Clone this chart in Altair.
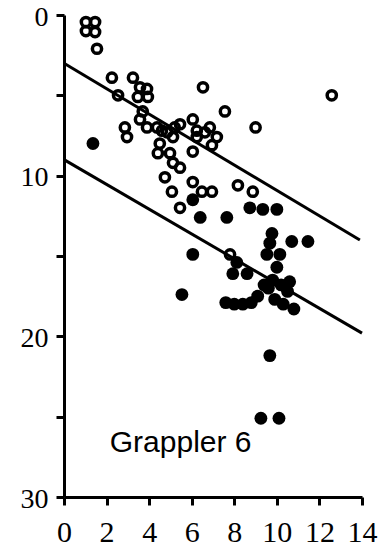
import altair as alt
import pandas as pd

# Open-circle group
open_x = [1.03, 1.46, 1.03, 1.46, 1.55, 2.25, 3.24, 2.54, 3.57, 3.9, 3.47, 3.94, 6.53,
          3.7, 3.57, 3.9, 2.86, 2.96, 4.37, 4.84, 5.2, 5.45, 6.05, 6.24, 6.62, 5.12,
          4.5, 4.98, 4.41, 6.05, 7.56, 9.0, 6.85, 7.18, 6.95, 6.24, 4.6, 5.12, 5.45,
          4.74, 6.05, 5.07, 6.48, 6.95, 5.45, 8.17, 8.87, 7.8, 12.58]
open_y = [0.44, 0.44, 1.0, 1.06, 2.1, 3.9, 3.9, 5.0, 4.5, 4.6, 5.1, 5.1, 4.5,
          6.0, 6.5, 7.0, 7.0, 7.6, 7.0, 7.3, 7.0, 6.8, 6.5, 7.2, 7.3, 7.6,
          8.0, 8.6, 8.6, 8.5, 6.0, 7.0, 7.0, 7.6, 8.1, 7.6, 7.2, 9.2, 9.5,
          10.1, 10.4, 11.0, 11.0, 11.0, 12.0, 10.6, 11.0, 14.9, 5.0]

# Filled-circle group
fill_x = [1.36, 6.05, 6.4, 7.65, 8.73, 9.34, 10.0, 6.05, 5.54, 9.77, 9.67, 10.7,
          11.46, 9.53, 10.14, 10.0, 8.12, 7.93, 8.6, 9.25, 10.1, 9.67,
          7.6, 8.0, 8.4, 8.8, 9.1, 9.4, 9.8, 10.2, 10.5, 10.8, 10.3, 9.9, 9.6, 10.6]
fill_y = [8.0, 11.5, 12.6, 12.6, 12.0, 12.1, 12.1, 14.9, 17.4, 13.6, 14.2, 14.1,
          14.1, 14.9, 14.9, 15.7, 15.4, 16.1, 16.1, 25.1, 25.1, 21.2,
          17.9, 18.0, 18.0, 17.9, 17.5, 16.8, 16.5, 16.8, 17.2, 18.3, 18.0, 17.7, 17.0, 16.6]

# Fitted lines (endpoints)
upper_x = [0.0, 13.9]
upper_y = [3.0, 14.0]
lower_x = [0.0, 14.0]
lower_y = [9.0, 19.8]

label_text = ["Grappler 6"]
label_x = [2.15]
label_y = [27.2]

open_df = pd.DataFrame({"x": open_x, "y": open_y})
fill_df = pd.DataFrame({"x": fill_x, "y": fill_y})
lines_df = pd.DataFrame({
    "x": upper_x + lower_x,
    "y": upper_y + lower_y,
    "line": ["upper"] * 2 + ["lower"] * 2,
})
label_df = pd.DataFrame({"x": label_x, "y": label_y, "t": label_text})

xscale = alt.Scale(domain=[0, 14], nice=False, zero=False)
yscale = alt.Scale(domain=[0, 30], reverse=True, nice=False, zero=False)

serif = "Liberation Serif"

x_enc = alt.X(
    "x:Q", scale=xscale,
    axis=alt.Axis(
        title=None, values=list(range(0, 15)), grid=False,
        labelExpr="datum.value % 2 == 0 ? datum.label : ''",
        labelFont=serif, labelFontSize=30, labelColor="black",
        labelPadding=12, tickSize=8, tickWidth=3, tickColor="black",
        domainWidth=3, domainColor="black", labelFlush=False,
    ),
)
y_enc = alt.Y(
    "y:Q", scale=yscale,
    axis=alt.Axis(
        title=None, values=[0, 5, 10, 15, 20, 25, 30], grid=False,
        labelExpr="datum.value % 10 == 0 ? datum.label : ''",
        labelFont=serif, labelFontSize=28, labelColor="black",
        labelPadding=8, labelOffset=2, tickSize=8, tickWidth=3, tickColor="black",
        domainWidth=3, domainColor="black", labelFlush=False,
    ),
)

lines = alt.Chart(lines_df).mark_line(color="black", strokeWidth=3).encode(
    x=x_enc, y=y_enc, detail="line:N"
)

open_pts = alt.Chart(open_df).mark_point(
    shape="circle", filled=False, color="black", strokeWidth=3.5, size=85, opacity=1
).encode(x="x:Q", y="y:Q")

fill_pts = alt.Chart(fill_df).mark_point(
    shape="circle", filled=True, color="black", size=165, opacity=1
).encode(x="x:Q", y="y:Q")

label = alt.Chart(label_df).mark_text(
    align="left", baseline="alphabetic", font="Liberation Sans", fontSize=30,
    color="black"
).encode(x="x:Q", y="y:Q", text="t:N")

chart = (
    alt.layer(lines, open_pts, fill_pts, label)
    .properties(
        width=298, height=482,
        autosize=alt.AutoSizeParams(type="none"),
        padding={"left": 64, "top": 15, "right": 18, "bottom": 62},
        background="white",
    )
    .configure_view(stroke=None)
)

chart.save("out.html", embed_options={"renderer": "svg", "actions": False})
